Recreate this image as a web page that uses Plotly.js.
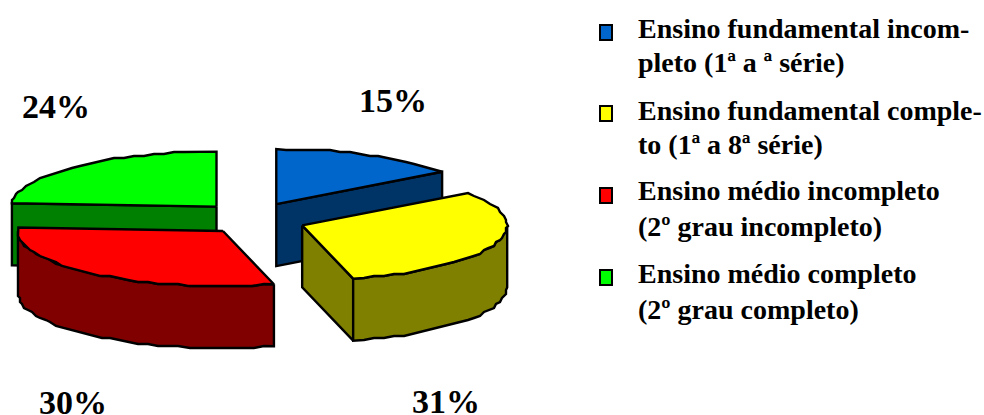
<!DOCTYPE html>
<html>
<head>
<meta charset="utf-8">
<script src="https://cdn.plot.ly/plotly-3.0.1.min.js"></script>
<style>html,body{margin:0;padding:0;background:#fff}#chart{width:984px;height:415px}</style>
</head>
<body>
<div id="chart"></div>
<script>
// Education level shares, clockwise from twelve o'clock
const categories = ['Ensino fundamental incompleto', 'Ensino fundamental completo', 'Ensino médio incompleto', 'Ensino médio completo'];
const shares = [15, 31, 30, 24];
const legendLines = [
  ['Ensino fundamental incom-', 'pleto (1ª a ª série)'],
  ['Ensino fundamental comple-', 'to (1ª a 8ª série)'],
  ['Ensino médio incompleto', '(2º grau incompleto)'],
  ['Ensino médio completo', '(2º grau completo)']
];
const topColors = ['#0066CC', '#FFFF00', '#FF0000', '#00FF00'];
const sideColors = ['#003366', '#808000', '#800000', '#008000'];

// Projection of the tilted disc, in axis units (one unit is one pixel)
const disc = {cx: 253, cy: 218.3, rx: 205, ry: 55, depth: 62, grid: 2};
const explodeX = [0.25, 0.255, 0.23, 0.26];
const explodeY = [0.29, 0.38, 0.3, 0.29];
const FONT = 'Liberation Serif, Times New Roman, serif';
const pctLabelAt = [[393, 100], [446, 401], [73, 402], [56, 106]];
const legendX = 636;
const legendRowY = [[28, 62], [110, 144], [190, 226], [273, 309]];
const swatchY = [25, 106, 188, 270];

const rad = d => d * Math.PI / 180;
const snap = v => Math.round(v / disc.grid) * disc.grid;

// Slice angle ranges from the shares
let run = 0;
const slices = shares.map((v, i) => {
  const a0 = run * 3.6; run += v; const a1 = run * 3.6;
  const mid = rad((a0 + a1) / 2);
  return {a0, a1,
    ox: disc.cx + explodeX[i] * disc.rx * Math.sin(mid),
    oy: disc.cy - explodeY[i] * disc.ry * Math.cos(mid)};
});

// Rim points between two angles, traced on the coarse plotting grid
function rim(s, a0, a1, dy) {
  const pts = [];
  const n = Math.max(2, Math.round((a1 - a0) / 3));
  for (let i = 0; i <= n; i++) {
    const t = rad(a0 + (a1 - a0) * i / n);
    const x = s.ox + disc.rx * Math.sin(t), y = s.oy - disc.ry * Math.cos(t);
    const end = i === 0 || i === n;
    pts.push([end ? x : snap(x), (end ? y : snap(y)) + dy]);
  }
  return pts;
}
function poly(pts, color) {
  const p = pts.concat([pts[0]]);
  return {type: 'scatter', mode: 'lines', x: p.map(q => q[0]), y: p.map(q => q[1]),
    fill: 'toself', fillcolor: color, line: {color: '#000', width: 2.4}, hoverinfo: 'skip', showlegend: false};
}
function topFace(i) {
  const s = slices[i];
  return poly([[s.ox, s.oy]].concat(rim(s, s.a0, s.a1, 0)), topColors[i]);
}
function outerWall(i) {
  const s = slices[i];
  const a0 = Math.max(s.a0, 90), a1 = Math.min(s.a1, 270);
  const upper = rim(s, a0, a1, 0), lower = rim(s, a0, a1, disc.depth).reverse();
  return poly(upper.concat(lower), sideColors[i]);
}
function cutWall(i, angle) {
  const s = slices[i], t = rad(angle);
  const x = s.ox + disc.rx * Math.sin(t), y = s.oy - disc.ry * Math.cos(t);
  return poly([[s.ox, s.oy], [x, y], [x, y + disc.depth], [s.ox, s.oy + disc.depth]], sideColors[i]);
}

// Painted back to front
const traces = [
  cutWall(3, slices[3].a0), topFace(3),
  cutWall(0, slices[0].a1), topFace(0),
  cutWall(1, slices[1].a1), outerWall(1), topFace(1),
  outerWall(2), topFace(2)
];

const annotations = [];
shares.forEach((v, i) => annotations.push({
  text: '<b>' + v + '%</b>', x: pctLabelAt[i][0], y: pctLabelAt[i][1], xref: 'x', yref: 'y',
  xanchor: 'center', yanchor: 'middle', showarrow: false, font: {family: FONT, size: 34, color: '#000'}
}));
legendLines.forEach((lines, i) => lines.forEach((t, j) => annotations.push({
  text: '<b>' + t + '</b>', x: legendX, y: legendRowY[i][j], xref: 'x', yref: 'y',
  xanchor: 'left', yanchor: 'middle', showarrow: false, font: {family: FONT, size: 28, color: '#000'}
})));

const shapes = categories.map((c, i) => ({
  type: 'rect', xref: 'x', yref: 'y', x0: 600, x1: 612, y0: swatchY[i], y1: swatchY[i] + 15,
  fillcolor: topColors[i], line: {color: '#000', width: 2}
}));

const axis = {visible: false, fixedrange: true, showgrid: false, zeroline: false};
Plotly.newPlot('chart', traces, {
  width: 984, height: 415, margin: {l: 0, r: 0, t: 0, b: 0},
  paper_bgcolor: '#fff', plot_bgcolor: '#fff', showlegend: false,
  xaxis: Object.assign({range: [0, 984]}, axis),
  yaxis: Object.assign({range: [415, 0]}, axis),
  annotations, shapes
}, {displayModeBar: false, staticPlot: true});
</script>
</body>
</html>
